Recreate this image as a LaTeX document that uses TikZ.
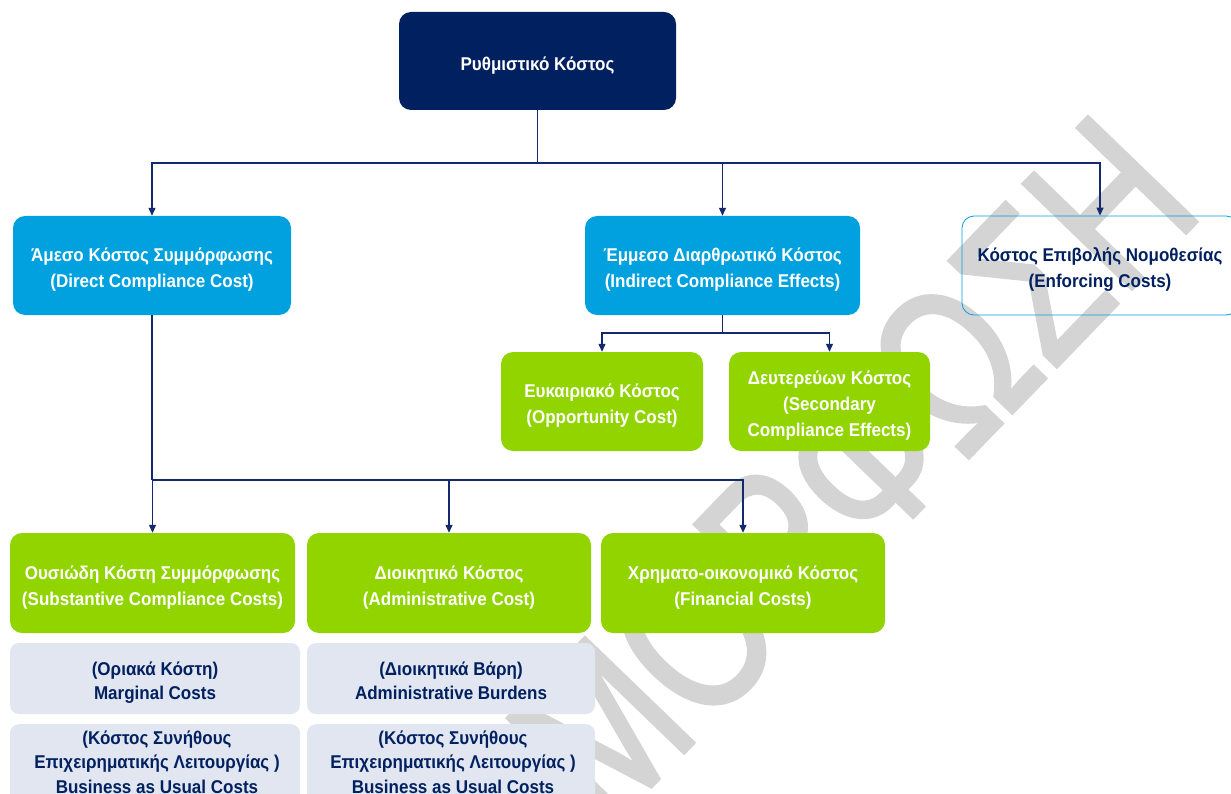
\documentclass[tikz,border=0pt]{standalone}
\usepackage{fontspec}
\setmainfont{Liberation Sans}[FakeStretch=0.92]
\newfontfamily\wmfont{Liberation Sans}[FakeStretch=0.76, FakeBold=1.5]
\usetikzlibrary{arrows.meta}
\definecolor{navy}{RGB}{0,32,96}
\definecolor{cblue}{RGB}{0,161,222}
\definecolor{cgreen}{RGB}{146,212,0}
\definecolor{cgray}{RGB}{226,230,240}
\definecolor{cline}{RGB}{20,42,110}
\definecolor{wmgray}{RGB}{212,212,212}
\newcommand\tx[1]{\raisebox{0pt}[\dimexpr\height+8pt\relax][\depth]{\begin{tabular}{@{}c@{}}#1\end{tabular}}}
\tikzset{
  box/.style={rounded corners=12pt, inner sep=0pt,
    font=\fontsize{18.5}{26}\selectfont\bfseries},
  rootbox/.style={box, fill=navy, text=white, minimum width=277pt, minimum height=98pt},
  bluebox/.style={box, fill=cblue, text=white, minimum width=278pt, minimum height=99pt},
  outbox/.style={box, draw=cblue, line width=0.8pt, text=navy, minimum width=276pt, minimum height=99pt},
  greenbox/.style={box, fill=cgreen, text=white, minimum height=99pt},
  graybox/.style={box, fill=cgray, text=navy, rounded corners=9pt, font=\fontsize{18.5}{24.5}\selectfont\bfseries},
  conn/.style={draw=cline, line width=1.2pt},
  arr/.style={conn, -{Triangle[width=7pt,length=8pt]}}
}
\begin{document}
\begin{tikzpicture}[x=1pt,y=-1pt]
\useasboundingbox (0,0) rectangle (1231,794);
\clip (0,0) rectangle (1231,794);
% watermark
\node[rotate=46, text=wmgray, font=\fontsize{220}{220}\wmfont, inner sep=0pt] (wm) at (852,470) {ΜΟΡΦΩΣΗ};
% root
\node[rootbox] (root) at (537.5,61) {\tx{Ρυθμιστικό Κόστος}};
% level 2
\node[bluebox] (direct) at (152,265.5) {\tx{Άμεσο Κόστος Συμμόρφωσης\\(Direct Compliance Cost)}};
\node[bluebox, minimum width=275pt] (indirect) at (722.5,265.5) {\tx{Έμμεσο Διαρθρωτικό Κόστος\\(Indirect Compliance Effects)}};
\node[outbox] (enforce) at (1100,265.5) {\tx{Κόστος Επιβολής Νομοθεσίας\\(Enforcing Costs)}};
% level 3 (indirect)
\node[greenbox, minimum width=202pt] (opp) at (602,401.5) {\tx{Ευκαιριακό Κόστος\\(Opportunity Cost)}};
\node[greenbox, minimum width=201pt] (sec) at (829.5,401.5) {\tx{Δευτερεύων Κόστος\\(Secondary\\Compliance Effects)}};
% level 3 (direct)
\node[greenbox, minimum width=285pt, minimum height=100pt] (subst) at (152.5,583) {\tx{Ουσιώδη Κόστη Συμμόρφωσης\\(Substantive Compliance Costs)}};
\node[greenbox, minimum width=284pt, minimum height=100pt] (admin) at (449,583) {\tx{Διοικητικό Κόστος\\(Administrative  Cost)}};
\node[greenbox, minimum width=284pt, minimum height=100pt] (fin) at (743,583) {\tx{Χρηματο-οικονομικό Κόστος\\(Financial Costs)}};
% gray boxes
\node[graybox, minimum width=290pt, minimum height=71pt] (marg) at (155,678.5) {\tx{(Οριακά Κόστη)\\Marginal Costs}};
\node[graybox, minimum width=288pt, minimum height=71pt] (burd) at (451,678.5) {\tx{(Διοικητικά Βάρη)\\Administrative Burdens}};
\node[graybox, minimum width=290pt, minimum height=90pt, anchor=north] (bau1) at (155,724) {};
\node[graybox, minimum width=288pt, minimum height=90pt, anchor=north] (bau2) at (451,724) {};
\node[graybox, fill=none] (bau1t) at (157,760) {\tx{(Κόστος Συνήθους\\Επιχειρηματικής Λειτουργίας )\\Business as Usual Costs}};
\node[graybox, fill=none] (bau2t) at (453,760) {\tx{(Κόστος Συνήθους\\Επιχειρηματικής Λειτουργίας )\\Business as Usual Costs}};
% connectors
\coordinate (j1) at (537.5,163);
\coordinate (j2) at (722.5,333);
\coordinate (j3) at (152,480);
\draw[conn] (root.south) -- (j1);
\draw[arr] (j1) -| (direct.north);
\draw[arr] (j1) -| (indirect.north);
\draw[arr] (j1) -| (enforce.north);
\draw[conn] (indirect.south) -- (j2);
\draw[arr] (j2) -| (opp.north);
\draw[arr] (j2) -| (sec.north);
\draw[conn] (direct.south) -- (j3);
\draw[arr] (j3) -| (subst.north);
\draw[arr] (j3) -| (admin.north);
\draw[arr] (j3) -| (fin.north);
\end{tikzpicture}
\end{document}
